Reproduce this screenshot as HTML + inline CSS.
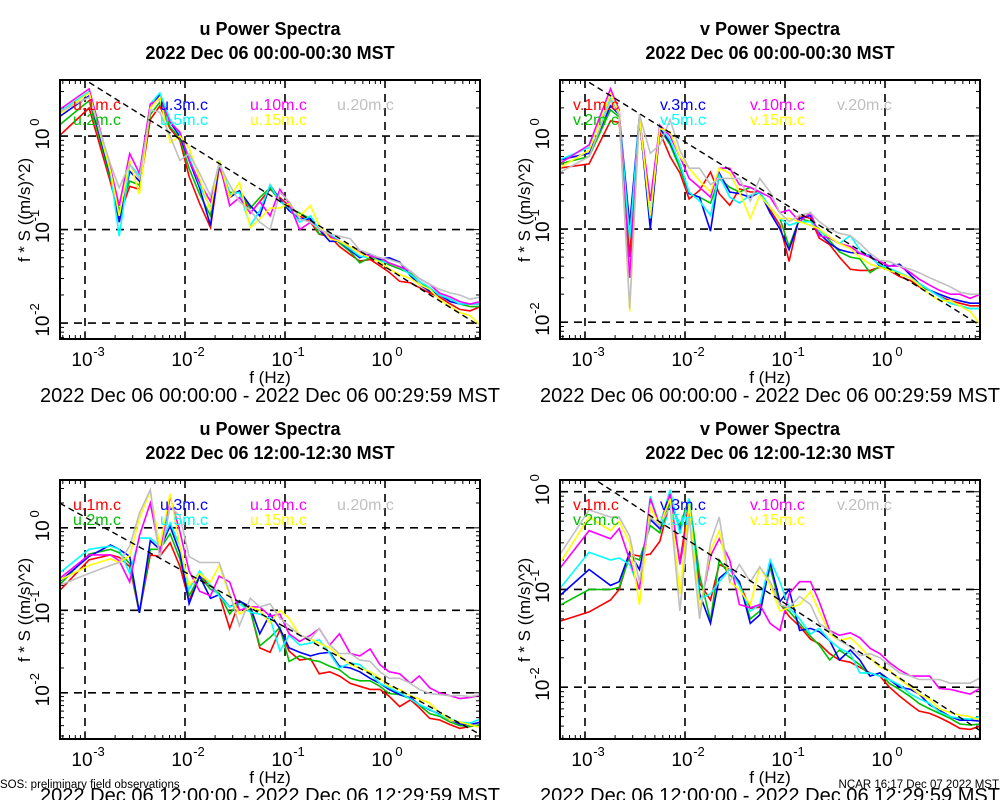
<!DOCTYPE html>
<html><head><meta charset="utf-8">
<style>
html,body{margin:0;padding:0;background:#fff;}
svg{display:block;font-family:"Liberation Sans",sans-serif;}
</style></head>
<body>
<svg id="chart" width="1000" height="800" viewBox="0 0 1000 800" xmlns="http://www.w3.org/2000/svg">
<rect x="0" y="0" width="1000" height="800" fill="#fff"/>
<text x="0" y="788" font-size="11.5">SOS: preliminary field observations</text>
<text x="999" y="788" font-size="11.5" text-anchor="end">NCAR 16:17 Dec 07 2022 MST</text>
</svg>
<script>
const freqs=[0.00055,0.0011,0.0018,0.0022,0.0028,0.0035,0.0045,0.0056,0.0071,0.0089,0.011,0.014,0.018,0.022,0.028,0.035,0.045,0.056,0.071,0.089,0.11,0.14,0.18,0.22,0.28,0.35,0.45,0.56,0.71,0.89,1.1,1.4,1.8,2.2,2.8,3.5,4.5,5.6,7.1,9.0];
const heights=["1m","2m","3m","5m","10m","15m","20m"];
const colors=["#ff0000","#00c000","#0000ff","#00ffff","#ff00ff","#ffff00","#c0c0c0"];
const xTicks=[0.001,0.01,0.1,1];
const xTickExp=["-3","-2","-1","0"];
const yTicks=[1,0.1,0.01];
const yTickExp=["0","-1","-2"];
// panel 1: u morning
const uAm1=[1.0,2.0,0.32,0.14,0.29,0.27,1.5,2.1,1.2,0.9,0.37,0.19,0.105,0.47,0.23,0.26,0.15,0.2,0.27,0.22,0.18,0.14,0.12,0.089,0.085,0.066,0.054,0.046,0.048,0.041,0.035,0.028,0.027,0.024,0.021,0.019,0.016,0.014,0.0135,0.015];
const uAm2=[1.3,2.4,0.35,0.16,0.33,0.3,1.7,2.3,1.25,0.95,0.45,0.24,0.14,0.5,0.25,0.25,0.17,0.22,0.28,0.2,0.17,0.15,0.13,0.09,0.09,0.072,0.058,0.044,0.05,0.048,0.042,0.038,0.034,0.028,0.023,0.02,0.018,0.016,0.015,0.015];
const uAm3=[1.6,2.7,0.38,0.12,0.42,0.33,2.0,2.8,1.4,1.0,0.55,0.28,0.11,0.55,0.22,0.26,0.18,0.14,0.3,0.21,0.16,0.13,0.13,0.1,0.075,0.075,0.06,0.05,0.055,0.048,0.05,0.045,0.032,0.026,0.022,0.02,0.017,0.016,0.016,0.016];
const uAm5=[1.8,3.0,0.4,0.085,0.5,0.38,2.2,2.9,1.5,1.05,0.6,0.3,0.17,0.55,0.24,0.25,0.11,0.16,0.3,0.2,0.17,0.12,0.14,0.1,0.09,0.075,0.062,0.052,0.05,0.046,0.044,0.04,0.033,0.028,0.024,0.02,0.018,0.016,0.016,0.016];
const uAm10=[1.9,3.2,0.45,0.18,0.65,0.4,2.2,2.5,1.4,1.1,0.55,0.32,0.2,0.52,0.18,0.22,0.15,0.2,0.14,0.27,0.19,0.1,0.12,0.1,0.085,0.075,0.065,0.058,0.052,0.05,0.044,0.04,0.036,0.03,0.026,0.021,0.019,0.017,0.016,0.017];
const uAm15=[1.7,2.9,0.42,0.14,0.55,0.24,2.0,2.6,0.85,1.0,0.75,0.35,0.16,0.55,0.22,0.32,0.105,0.13,0.17,0.17,0.19,0.14,0.18,0.11,0.08,0.075,0.065,0.056,0.05,0.045,0.038,0.033,0.03,0.026,0.023,0.018,0.015,0.013,0.012,0.0095];
const uAm20=[1.8,2.6,0.5,0.28,0.5,0.35,1.9,1.8,1.0,0.55,0.65,0.4,0.23,0.5,0.3,0.2,0.16,0.12,0.1,0.25,0.2,0.13,0.12,0.1,0.09,0.085,0.08,0.06,0.055,0.05,0.048,0.044,0.036,0.03,0.026,0.023,0.021,0.02,0.018,0.019];
// panel 2: v morning
const vAm1=[0.45,0.5,1.45,1.4,0.05,1.5,0.12,1.1,0.6,0.4,0.21,0.26,0.41,0.24,0.18,0.27,0.25,0.25,0.16,0.11,0.045,0.14,0.13,0.08,0.068,0.05,0.037,0.036,0.036,0.039,0.036,0.031,0.028,0.024,0.022,0.019,0.017,0.016,0.015,0.015];
const vAm2=[0.5,0.6,1.9,1.6,0.08,1.6,0.14,1.2,0.8,0.45,0.24,0.22,0.19,0.35,0.28,0.25,0.28,0.25,0.17,0.13,0.065,0.13,0.12,0.1,0.075,0.057,0.05,0.048,0.034,0.04,0.037,0.033,0.03,0.025,0.022,0.019,0.016,0.015,0.014,0.014];
const vAm3=[0.55,0.65,2.1,1.7,0.11,1.6,0.1,1.2,0.85,0.5,0.24,0.22,0.095,0.4,0.25,0.24,0.22,0.25,0.15,0.1,0.06,0.13,0.14,0.09,0.07,0.06,0.056,0.055,0.052,0.04,0.04,0.042,0.032,0.026,0.022,0.02,0.018,0.017,0.016,0.016];
const vAm5=[0.55,0.75,2.5,1.7,0.08,1.6,0.13,1.3,0.9,0.5,0.25,0.2,0.14,0.38,0.22,0.19,0.23,0.25,0.17,0.13,0.11,0.12,0.12,0.095,0.08,0.07,0.085,0.06,0.05,0.041,0.038,0.034,0.03,0.026,0.022,0.019,0.016,0.015,0.014,0.014];
const vAm10=[0.5,0.8,3.2,1.9,0.03,1.6,0.2,1.3,1.0,0.6,0.35,0.28,0.22,0.45,0.45,0.3,0.28,0.25,0.22,0.15,0.16,0.12,0.15,0.085,0.08,0.07,0.065,0.055,0.05,0.045,0.04,0.04,0.034,0.029,0.025,0.022,0.02,0.02,0.018,0.02];
const vAm15=[0.45,0.7,2.8,1.8,0.013,1.6,0.14,1.2,1.1,0.6,0.45,0.33,0.25,0.45,0.4,0.25,0.13,0.23,0.17,0.13,0.13,0.12,0.11,0.1,0.082,0.07,0.062,0.05,0.042,0.039,0.036,0.033,0.03,0.025,0.02,0.017,0.017,0.015,0.013,0.0095];
const vAm20=[0.4,0.6,2.4,1.7,0.014,1.7,0.65,0.8,1.5,0.7,0.45,0.45,0.3,0.35,0.35,0.35,0.2,0.35,0.25,0.15,0.12,0.14,0.15,0.12,0.1,0.09,0.085,0.07,0.055,0.046,0.045,0.04,0.037,0.034,0.03,0.027,0.024,0.021,0.02,0.02];
// panel 3: u afternoon
const uPm1=[0.17,0.41,0.47,0.44,0.34,0.093,0.47,0.45,0.66,0.34,0.13,0.26,0.2,0.155,0.06,0.13,0.1,0.035,0.031,0.058,0.032,0.025,0.026,0.017,0.018,0.016,0.013,0.012,0.011,0.011,0.0091,0.0068,0.0082,0.0066,0.0049,0.0047,0.0041,0.0037,0.0039,0.0041];
const uPm2=[0.2,0.48,0.55,0.5,0.37,0.093,0.55,0.55,0.85,0.42,0.15,0.26,0.18,0.16,0.09,0.13,0.1,0.037,0.047,0.062,0.024,0.028,0.025,0.024,0.021,0.019,0.015,0.014,0.014,0.012,0.0098,0.0095,0.0085,0.0071,0.0056,0.0052,0.0044,0.004,0.0039,0.0041];
const uPm3=[0.22,0.45,0.62,0.55,0.45,0.093,0.7,0.55,1.05,0.5,0.12,0.26,0.14,0.155,0.11,0.13,0.11,0.052,0.09,0.06,0.035,0.031,0.028,0.03,0.031,0.021,0.02,0.018,0.015,0.013,0.011,0.0095,0.0087,0.0072,0.0062,0.0055,0.0047,0.0042,0.0041,0.0044];
const uPm5=[0.28,0.55,0.6,0.55,0.28,0.75,0.75,0.6,1.15,0.6,0.18,0.3,0.2,0.15,0.11,0.12,0.095,0.09,0.08,0.032,0.05,0.038,0.04,0.044,0.03,0.02,0.023,0.022,0.017,0.013,0.0115,0.01,0.0084,0.0072,0.0063,0.0054,0.0048,0.0044,0.0043,0.0048];
const uPm10=[0.24,0.47,0.47,0.4,0.22,0.8,2.0,0.5,2.4,0.9,0.3,0.17,0.15,0.26,0.22,0.1,0.11,0.11,0.085,0.09,0.052,0.042,0.05,0.06,0.038,0.052,0.03,0.028,0.034,0.022,0.018,0.017,0.013,0.016,0.0115,0.01,0.0092,0.0085,0.0088,0.0094];
const uPm15=[0.23,0.35,0.42,0.38,0.46,1.3,2.8,0.6,2.6,0.6,0.2,0.28,0.22,0.35,0.15,0.09,0.11,0.1,0.07,0.1,0.08,0.05,0.045,0.04,0.035,0.028,0.022,0.02,0.018,0.015,0.012,0.011,0.0092,0.0084,0.0075,0.0058,0.0047,0.0044,0.0041,0.0038];
const uPm20=[0.2,0.28,0.35,0.38,0.6,1.5,2.9,0.42,1.8,1.4,0.45,0.38,0.38,0.38,0.16,0.065,0.14,0.11,0.12,0.08,0.065,0.05,0.045,0.06,0.038,0.03,0.03,0.025,0.024,0.018,0.015,0.015,0.013,0.011,0.0098,0.0095,0.0092,0.0093,0.009,0.0095];
// panel 4: v afternoon
const vPm1=[0.047,0.059,0.078,0.1,0.23,0.22,0.23,0.31,0.79,0.19,0.79,0.116,0.078,0.18,0.16,0.116,0.064,0.066,0.17,0.072,0.053,0.042,0.031,0.028,0.022,0.019,0.018,0.016,0.014,0.013,0.0101,0.0081,0.0066,0.0057,0.0054,0.0049,0.0043,0.0038,0.0037,0.004];
const vPm2=[0.068,0.1,0.1,0.105,0.22,0.2,0.45,0.38,0.8,0.45,0.85,0.14,0.048,0.2,0.14,0.12,0.05,0.06,0.17,0.07,0.06,0.045,0.033,0.027,0.019,0.024,0.02,0.017,0.013,0.014,0.011,0.0095,0.008,0.0068,0.006,0.0054,0.0048,0.0042,0.0041,0.0042];
const vPm3=[0.085,0.16,0.11,0.12,0.24,0.16,0.52,0.42,0.9,0.4,0.8,0.09,0.045,0.13,0.16,0.12,0.045,0.055,0.19,0.075,0.1,0.038,0.04,0.037,0.03,0.019,0.024,0.019,0.013,0.014,0.012,0.01,0.0095,0.0085,0.0066,0.0058,0.005,0.0046,0.0046,0.0045];
const vPm5=[0.1,0.24,0.2,0.21,0.18,0.1,0.9,0.45,1.05,0.37,0.85,0.08,0.09,0.12,0.16,0.11,0.06,0.07,0.2,0.12,0.065,0.05,0.035,0.04,0.03,0.025,0.022,0.014,0.014,0.013,0.012,0.0105,0.0085,0.0076,0.0068,0.0056,0.005,0.0048,0.0047,0.005];
const vPm10=[0.16,0.4,0.33,0.42,0.2,0.1,0.85,0.45,0.95,0.18,0.6,0.06,0.22,0.33,0.2,0.07,0.065,0.07,0.045,0.038,0.09,0.12,0.12,0.075,0.038,0.034,0.036,0.032,0.025,0.022,0.018,0.015,0.013,0.013,0.013,0.0097,0.0095,0.009,0.0085,0.0098];
const vPm15=[0.18,0.55,0.4,0.5,0.3,0.07,0.7,0.45,0.85,0.09,0.75,0.06,0.25,0.4,0.12,0.1,0.07,0.17,0.11,0.06,0.065,0.07,0.095,0.06,0.035,0.03,0.032,0.026,0.02,0.016,0.015,0.012,0.01,0.0085,0.0075,0.006,0.0055,0.0052,0.005,0.0046];
const vPm20=[0.22,0.65,0.55,0.55,0.35,0.12,0.55,0.45,0.7,0.06,0.55,0.05,0.3,0.55,0.12,0.18,0.12,0.17,0.12,0.07,0.065,0.085,0.07,0.045,0.038,0.03,0.026,0.021,0.022,0.02,0.017,0.014,0.013,0.012,0.012,0.012,0.011,0.011,0.011,0.0125];
// reference -2/3 slope line: value at f=1 and start frequency
const refAmp=[0.04,0.04,0.0135,0.0155];
const refStart=[0.0011,0.0011,0.00056,0.00135];

const NS="http://www.w3.org/2000/svg";
const svg=document.getElementById('chart');
function mk(tag,attrs,parent){const e=document.createElementNS(NS,tag);for(const k in attrs)e.setAttribute(k,attrs[k]);(parent||svg).appendChild(e);return e;}

const panels=[
 {comp:"u",title:"u Power Spectra",sub:"2022 Dec 06 00:00-00:30 MST",range:"2022 Dec 06 00:00:00 - 2022 Dec 06 00:29:59 MST",ox:0,oy:0,ylo:-2.17,yhi:0.6,series:[uAm1,uAm2,uAm3,uAm5,uAm10,uAm15,uAm20]},
 {comp:"v",title:"v Power Spectra",sub:"2022 Dec 06 00:00-00:30 MST",range:"2022 Dec 06 00:00:00 - 2022 Dec 06 00:29:59 MST",ox:500,oy:0,ylo:-2.18,yhi:0.6,series:[vAm1,vAm2,vAm3,vAm5,vAm10,vAm15,vAm20]},
 {comp:"u",title:"u Power Spectra",sub:"2022 Dec 06 12:00-12:30 MST",range:"2022 Dec 06 12:00:00 - 2022 Dec 06 12:29:59 MST",ox:0,oy:400,ylo:-2.56,yhi:0.58,series:[uPm1,uPm2,uPm3,uPm5,uPm10,uPm15,uPm20]},
 {comp:"v",title:"v Power Spectra",sub:"2022 Dec 06 12:00-12:30 MST",range:"2022 Dec 06 12:00:00 - 2022 Dec 06 12:29:59 MST",ox:500,oy:400,ylo:-2.53,yhi:0.12,series:[vPm1,vPm2,vPm3,vPm5,vPm10,vPm15,vPm20]}
];
const XLO=-3.25,XHI=0.95;

panels.forEach((p,pi)=>{
 const g=mk('g',{});
 
 
 const L=p.ox+60,R=p.ox+480,T=p.oy+80,B=p.oy+339;
 const xs=f=>L+(Math.log10(f)-XLO)/(XHI-XLO)*(R-L);
 const ys=v=>B-(Math.log10(v)-p.ylo)/(p.yhi-p.ylo)*(B-T);
 const cx=p.ox+270;
 let t=mk('text',{x:cx,y:p.oy+35,'font-size':18,'font-weight':'bold','text-anchor':'middle'},g);t.textContent=p.title;
 
 t=mk('text',{x:cx,y:p.oy+59,'font-size':18,'font-weight':'bold','text-anchor':'middle'},g);t.textContent=p.sub;
 
 const cid='clip'+pi;
 const cp=mk('clipPath',{id:cid},g);mk('rect',{x:L,y:T,width:R-L,height:B-T},cp);
 xTicks.forEach((f,i)=>{
  const x=xs(f);
  const gl=mk('line',{x1:x,y1:T,x2:x,y2:B,stroke:'#000','stroke-width':1.6,'stroke-dasharray':'8,6'},g);
  
  const tx=mk('text',{x:x-3,y:p.oy+366,'font-size':19,'text-anchor':'middle'},g);
  tx.textContent='10';
  
  const sup=mk('text',{x:x+14,y:p.oy+356,'font-size':13,'text-anchor':'middle'},g);sup.textContent=xTickExp[i];
 });
 yTicks.forEach((v,i)=>{
  const y=ys(v);
  if(y<T||y>B)return;
  const gl=mk('line',{x1:L,y1:y,x2:R,y2:y,stroke:'#000','stroke-width':1.6,'stroke-dasharray':'8,6'},g);
  
  const tg=mk('g',{transform:'translate('+(p.ox+49)+','+y+') rotate(-90)'},g);
  const tx=mk('text',{x:-3,y:0,'font-size':19,'text-anchor':'middle'},tg);tx.textContent='10';
  
  const sup=mk('text',{x:14,y:-10,'font-size':13,'text-anchor':'middle'},tg);sup.textContent=yTickExp[i];
 });
 for(let d=-4;d<=1;d++)for(let m=1;m<10;m++){
  const f=m*Math.pow(10,d);const x=xs(f);if(x<L||x>R)continue;const len=m===1?8:4;
  mk('line',{x1:x,y1:B,x2:x,y2:B-len,stroke:'#000','stroke-width':1},g);
  mk('line',{x1:x,y1:T,x2:x,y2:T+len,stroke:'#000','stroke-width':1},g);
 }
 for(let d=-3;d<=0;d++)for(let m=1;m<10;m++){
  const v=m*Math.pow(10,d);const y=ys(v);if(y<T||y>B)continue;const len=m===1?8:4;
  mk('line',{x1:L,y1:y,x2:L+len,y2:y,stroke:'#000','stroke-width':1},g);
  mk('line',{x1:R,y1:y,x2:R-len,y2:y,stroke:'#000','stroke-width':1},g);
 }
 const sg=mk('g',{'clip-path':'url(#'+cid+')'},g);
 p.series.forEach((arr,si)=>{
  const d=arr.map((v,i)=>(i?'L':'M')+xs(freqs[i]).toFixed(1)+','+ys(v).toFixed(1)).join('');
  const pl=mk('path',{d:d,fill:'none',stroke:colors[si],'stroke-width':1.6},sg);
  
  
 });
 const f0=refStart[pi],f1=9.0;
 const rl=mk('line',{x1:xs(f0),y1:ys(refAmp[pi]*Math.pow(f0,-2/3)),x2:xs(f1),y2:ys(refAmp[pi]*Math.pow(f1,-2/3)),stroke:'#000','stroke-width':1.4,'stroke-dasharray':'6,4'},sg);
 
 const lx=[73,160,250,337],ly=[110,125];
 const order=[[0,0,0],[1,0,1],[2,1,0],[3,1,1],[4,2,0],[5,2,1],[6,3,0]];
 order.forEach(([si,c,r])=>{
  const lt=mk('text',{x:p.ox+lx[c],y:p.oy+ly[r],'font-size':16,fill:colors[si]},g);
  lt.textContent=p.comp+'.'+heights[si]+'.c';
  
 });
 const fr=mk('rect',{x:L,y:T,width:R-L,height:B-T,fill:'none',stroke:'#000','stroke-width':2},g);
 
 t=mk('text',{x:cx,y:p.oy+383,'font-size':17,'text-anchor':'middle'},g);t.textContent='f (Hz)';
 
 const yt=mk('text',{x:0,y:0,'font-size':17,'text-anchor':'middle',transform:'translate('+(p.ox+30)+','+(p.oy+210)+') rotate(-90)'},g);
 yt.textContent='f * S ((m/s)^2)';
 
 t=mk('text',{x:cx,y:p.oy+402,'font-size':20,'text-anchor':'middle',textLength:460,lengthAdjust:'spacingAndGlyphs'},g);t.textContent=p.range;
 
});
</script>
</body></html>
